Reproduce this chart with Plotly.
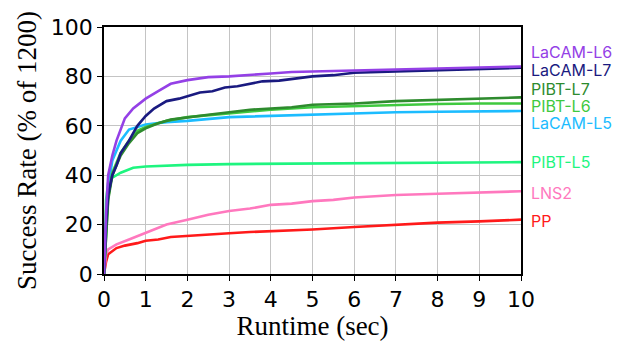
import plotly.graph_objects as go

names = ["LaCAM-L6", "LaCAM-L7", "PIBT-L7", "PIBT-L6", "LaCAM-L5", "PIBT-L5", "LNS2", "PP"]
colors = ["#9440E6", "#1A1A80", "#2E8B2E", "#3FC93F", "#1CBCFF", "#1EF57F", "#FF78BE", "#FF1A1A"]

lacam6_x = [0, 0.05, 0.1, 0.2, 0.3, 0.5, 0.7, 1.0, 1.3, 1.6, 2.0, 2.5, 3.0, 3.5, 4.0, 4.5, 5.0, 6.0, 7.0, 8.0, 9.0, 10.0]
lacam6_y = [0, 25, 40, 48, 54, 63, 67, 71, 74, 77, 78.5, 79.7, 80, 80.5, 81.2, 81.8, 82, 82.5, 83, 83.3, 83.6, 84]

lacam7_x = [0, 0.05, 0.1, 0.2, 0.3, 0.4, 0.6, 0.8, 1.0, 1.2, 1.5, 1.8, 2.0, 2.3, 2.6, 2.9, 3.2, 3.5, 3.8, 4.2, 4.5, 5.0, 5.5, 6.0, 7.0, 8.0, 9.0, 10.0]
lacam7_y = [0, 20, 32, 40, 44, 49, 54, 60, 64, 67, 70, 71, 72, 73.5, 74, 75.5, 76, 77, 78, 78.3, 79, 80, 80.5, 81.5, 82, 82.5, 83, 83.5]

pibt7_x = [0, 0.1, 0.2, 0.4, 0.6, 0.8, 1.0, 1.3, 1.6, 2.0, 2.5, 3.0, 3.5, 4.0, 4.5, 5.0, 6.0, 7.0, 8.0, 9.0, 10.0]
pibt7_y = [0, 30, 40, 48, 53, 57, 59, 61, 62.5, 63.5, 64.5, 65.5, 66.5, 67, 67.5, 68.5, 69, 70, 70.5, 71, 71.5]

pibt6_x = [0, 0.1, 0.2, 0.4, 0.6, 0.8, 1.0, 1.5, 2.0, 3.0, 4.0, 5.0, 6.0, 7.0, 8.0, 9.0, 10.0]
pibt6_y = [0, 31, 41, 49, 54, 58, 59.5, 62, 63.5, 65, 66.5, 67.5, 68, 68.5, 68.8, 69, 69]

lacam5_x = [0, 0.1, 0.2, 0.4, 0.6, 0.8, 1.0, 1.5, 2.0, 3.0, 4.0, 5.0, 6.0, 7.0, 8.0, 9.0, 10.0]
lacam5_y = [0, 35, 46, 54, 58.5, 59.5, 60.5, 61.5, 62, 63.5, 64, 64.5, 65, 65.5, 65.7, 66, 66]

pibt5_x = [0, 0.05, 0.1, 0.2, 0.4, 0.7, 1.0, 1.5, 2.0, 3.0, 5.0, 7.0, 10.0]
pibt5_y = [0, 30, 37, 39, 41, 43, 43.5, 44, 44.2, 44.5, 44.8, 45, 45.3]

lns2_x = [0, 0.05, 0.1, 0.3, 0.6, 0.9, 1.2, 1.5, 2.0, 2.5, 3.0, 3.5, 4.0, 4.5, 5.0, 5.5, 6.0, 7.0, 8.0, 9.0, 10.0]
lns2_y = [0, 8, 10, 12, 14, 16, 18, 20, 22, 24, 25.5, 26.5, 28, 28.5, 29.5, 30, 31, 32, 32.5, 33, 33.5]

pp_x = [0, 0.05, 0.1, 0.3, 0.5, 0.8, 1.0, 1.3, 1.6, 2.0, 2.5, 3.0, 3.5, 4.0, 5.0, 6.0, 7.0, 8.0, 9.0, 10.0]
pp_y = [0, 5, 8, 10.5, 11.5, 12.5, 13.5, 14, 15, 15.5, 16, 16.5, 17, 17.3, 18, 19, 20, 20.8, 21.3, 22]

label_y = [90, 82.6, 74.9, 68.0, 61.1, 45.3, 32.8, 21.5]

xs = [lacam6_x, lacam7_x, pibt7_x, pibt6_x, lacam5_x, pibt5_x, lns2_x, pp_x]
ys = [lacam6_y, lacam7_y, pibt7_y, pibt6_y, lacam5_y, pibt5_y, lns2_y, pp_y]

fig = go.Figure()
order = [7, 6, 5, 4, 3, 2, 1, 0]
for i in order:
    fig.add_trace(go.Scatter(x=xs[i], y=ys[i], mode="lines", name=names[i],
                             line=dict(color=colors[i], width=2.6), showlegend=False))

for i in range(len(names)):
    fig.add_annotation(x=1.018, xref="paper", y=label_y[i], yref="y", text=names[i],
                       showarrow=False, xanchor="left", yanchor="middle",
                       font=dict(family="Inter", size=16, color=colors[i]))

axis_common = dict(showline=True, linecolor="black", linewidth=1.5, mirror=True,
                   ticks="outside", ticklen=5, tickcolor="black", automargin=False,
                   showgrid=True, gridcolor="#c4c4c4", gridwidth=1.2, zeroline=False,
                   tickfont=dict(family="DejaVu Sans", size=22, color="black"))

fig.update_xaxes(range=[0, 10], tickvals=list(range(11)),
                 title=dict(text="Runtime (sec)", font=dict(family="Liberation Serif", size=27, color="black"), standoff=1),
                 **axis_common)
fig.update_yaxes(range=[0, 100], tickvals=[0, 20, 40, 60, 80, 100],
                 title=dict(text="Success Rate (% of 1200)", font=dict(family="Liberation Serif", size=27, color="black"), standoff=6),
                 **axis_common)

fig.update_layout(width=622, height=341, margin=dict(l=104, r=101, t=27, b=67),
                  plot_bgcolor="white", paper_bgcolor="white")

fig.write_html("out.html")
